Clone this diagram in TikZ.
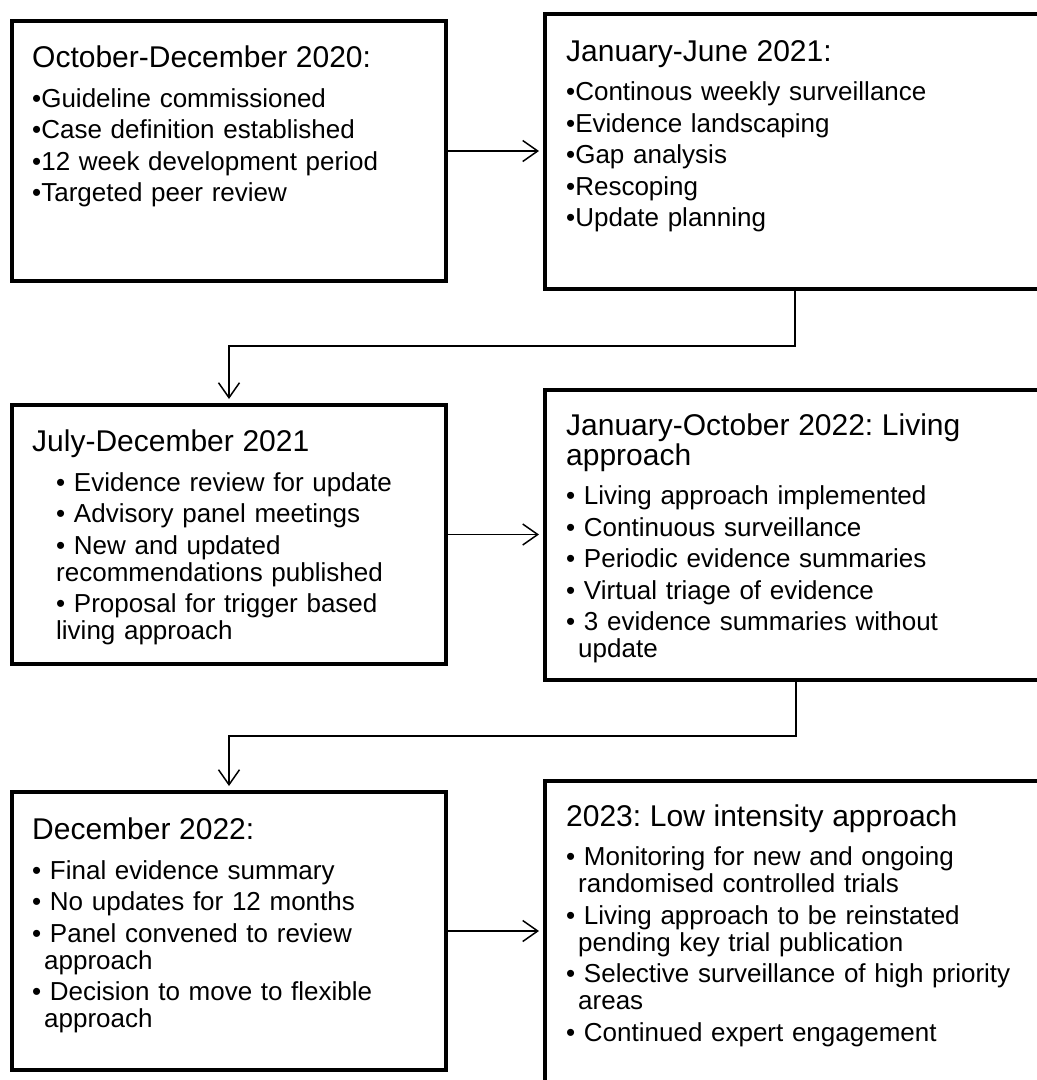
\documentclass[tikz,border=0pt]{standalone}
\usepackage{fontspec}
\setmainfont{Liberation Sans}
\usetikzlibrary{arrows.meta}
\frenchspacing

\newcommand{\stagetitle}[1]{\noindent{\fontsize{30}{30}\selectfont #1\par}\vspace{8pt}}
\newcommand{\bline}[2]{\hangindent=#1\hangafter=1\noindent #2\par}

\begin{document}
\begin{tikzpicture}[x=1pt,y=-1pt,
  stagebox/.style={draw,line width=4pt,inner sep=0pt,outer sep=0pt},
  stagetext/.style={anchor=north west,inner sep=0pt,text width=490pt,
    font=\fontsize{26}{27}\selectfont,execute at begin node=\setlength{\parskip}{4.5pt}},
  flowarrow/.style={line width=1.5pt,-{Straight Barb[length=15pt,width=21pt]},shorten >=6pt}]
\useasboundingbox (0,0) rectangle (1037,1080);

\node[stagebox,minimum width=434pt,minimum height=260pt] (oct20) at (229,151) {};
\node[stagebox,minimum width=500pt,minimum height=275pt] (jan21) at (795,151.5) {};
\node[stagebox,minimum width=434pt,minimum height=259pt] (jul21) at (229,534.5) {};
\node[stagebox,minimum width=502pt,minimum height=290.5pt] (jan22) at (796,534.75) {};
\node[stagebox,minimum width=434pt,minimum height=278pt] (dec22) at (229,931) {};
\node[stagebox,minimum width=502pt,minimum height=303pt] (y2023) at (796,932) {};

\node[stagetext] (oct20txt) at ([shift={(20,25)}]oct20.north west) {%
  \stagetitle{October-December 2020:}
  \bline{0pt}{•Guideline commissioned}
  \bline{0pt}{•Case definition established}
  \bline{0pt}{•12 week development period}
  \bline{0pt}{•Targeted peer review}};
\node[stagetext] (jan21txt) at ([shift={(21,26)}]jan21.north west) {%
  \stagetitle{January-June 2021:}
  \bline{0pt}{•Continous weekly surveillance}
  \bline{0pt}{•Evidence landscaping}
  \bline{0pt}{•Gap analysis}
  \bline{0pt}{•Rescoping}
  \bline{0pt}{•Update planning}};
\node[stagetext] (jul21txt) at ([shift={(20,25)}]jul21.north west) {%
  \stagetitle{July-December 2021}
  \leftskip=24pt
  \bline{0pt}{• Evidence review for update}
  \bline{0pt}{• Advisory panel meetings}
  \bline{0pt}{• New and updated\newline recommendations published}
  \bline{0pt}{• Proposal for trigger based\newline living approach}};
\node[stagetext] (jan22txt) at ([shift={(21,24)}]jan22.north west) {%
  \stagetitle{January-October 2022: Living\newline approach}
  \bline{12pt}{• Living approach implemented}
  \bline{12pt}{• Continuous surveillance}
  \bline{12pt}{• Periodic evidence summaries}
  \bline{12pt}{• Virtual triage of evidence}
  \bline{12pt}{• 3 evidence summaries without\newline update}};
\node[stagetext] (dec22txt) at ([shift={(20,26)}]dec22.north west) {%
  \stagetitle{December 2022:}
  \bline{12pt}{• Final evidence summary}
  \bline{12pt}{• No updates for 12 months}
  \bline{12pt}{• Panel convened to review\newline approach}
  \bline{12pt}{• Decision to move to flexible\newline approach}};
\node[stagetext] (y2023txt) at ([shift={(21,24)}]y2023.north west) {%
  \stagetitle{2023: Low intensity approach}
  \bline{12pt}{• Monitoring for new and ongoing\newline randomised controlled trials}
  \bline{12pt}{• Living approach to be reinstated\newline pending key trial publication}
  \bline{12pt}{• Selective surveillance of high priority\newline areas}
  \bline{12pt}{• Continued expert engagement}};

\foreach \from/\to in {oct20/jan21,jul21/jan22,dec22/y2023}
  \draw[flowarrow] (\from.east) -- (\from.east -| \to.west);
\draw[flowarrow] (jan21.south) -- ++(0,57) -| (jul21.north);
\draw[flowarrow] (jan22.south) -- ++(0,56) -| (dec22.north);
\end{tikzpicture}
\end{document}
